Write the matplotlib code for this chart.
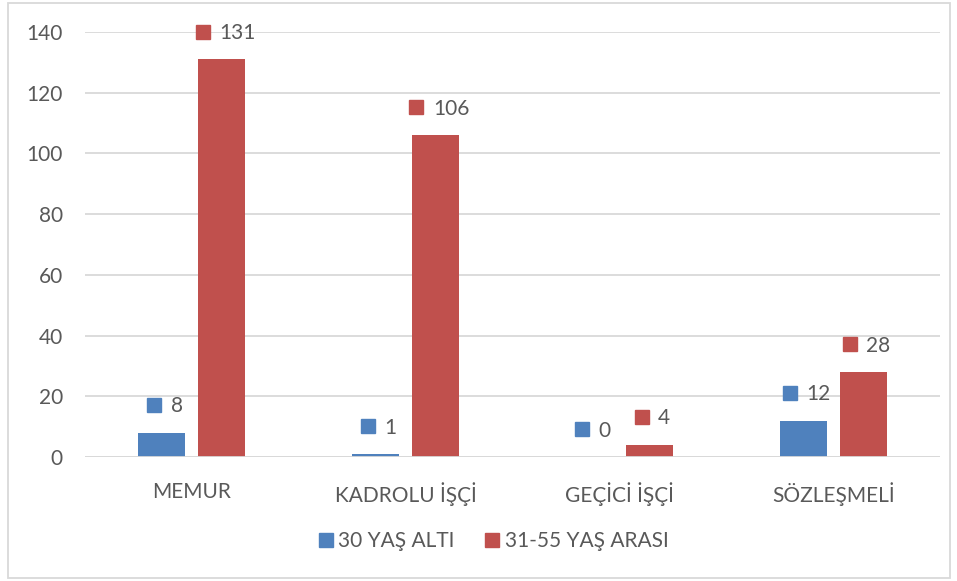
import matplotlib.pyplot as plt
import numpy as np
from matplotlib.patches import Rectangle
from matplotlib.lines import Line2D
from matplotlib.transforms import offset_copy

categories = ["MEMUR", "KADROLU İŞÇİ", "GEÇİCİ İŞÇİ", "SÖZLEŞMELİ"]
under_30 = [8, 1, 0, 12]
age_31_55 = [131, 106, 4, 28]
series_names = ["30 YAŞ ALTI", "31-55 YAŞ ARASI"]

blue = "#4F81BD"
red = "#C0504D"
text_col = "#595959"
grid_col = "#D9D9D9"
fs = 15

plt.rcParams['font.family'] = ['Lato', 'DejaVu Sans']

fig = plt.figure(figsize=(9.57, 5.81), dpi=100)
ax = fig.add_axes([85 / 957, 1 - 457 / 581, 855 / 957, 425 / 581])

x = np.arange(len(categories))
w = 0.22
off = 0.14
ax.bar(x - off, under_30, w, color=blue, zorder=3)
ax.bar(x + off, age_31_55, w, color=red, zorder=3)

ax.set_xlim(-0.5, len(categories) - 0.5)
ax.set_ylim(0, 140)
ax.set_yticks(range(0, 141, 20))
ax.set_xticks(x)
ax.set_xticklabels(categories)
ax.tick_params(length=0, labelsize=fs, colors=text_col)
ax.tick_params(axis='y', pad=16)
ax.tick_params(axis='x', pad=18)
ax.grid(axis='y', color=grid_col, linewidth=1.3, zorder=0)
for s in ax.spines.values():
    s.set_visible(False)
ax.axhline(0, color=grid_col, linewidth=1.3, zorder=4)

# data labels with legend keys (square + value)
for vals, dx, col in [(under_30, -off, blue), (age_31_55, off, red)]:
    for xi, v in zip(x, vals):
        s = str(v)
        tw = 8.2 * len(s)
        total = 10 + 7 + tw
        left = 2 - total / 2
        tr_sq = offset_copy(ax.transData, fig=fig, x=left + 5, y=20, units='points')
        ax.plot(xi + dx, v, marker='s', markersize=10, color=col, transform=tr_sq,
                clip_on=False, zorder=5)
        tr_tx = offset_copy(ax.transData, fig=fig, x=left + 17, y=19, units='points')
        ax.text(xi + dx, v, s, transform=tr_tx, ha='left', va='center',
                fontsize=fs, color=text_col, zorder=5)

handles = [Line2D([], [], marker='s', linestyle='none', markersize=10, color=c)
           for c in (blue, red)]
fig.legend(handles, series_names, loc='center', bbox_to_anchor=(492 / 957, 1 - 541 / 581),
           ncol=2, frameon=False, fontsize=fs, labelcolor=text_col,
           handletextpad=0.1, columnspacing=1.3, handlelength=1.0)

fig.patches.append(Rectangle((8 / 957, 3 / 581), 942 / 957, 575 / 581, transform=fig.transFigure,
                             fill=False, edgecolor=grid_col, linewidth=1.3))

fig.savefig("out.png", dpi=100)
